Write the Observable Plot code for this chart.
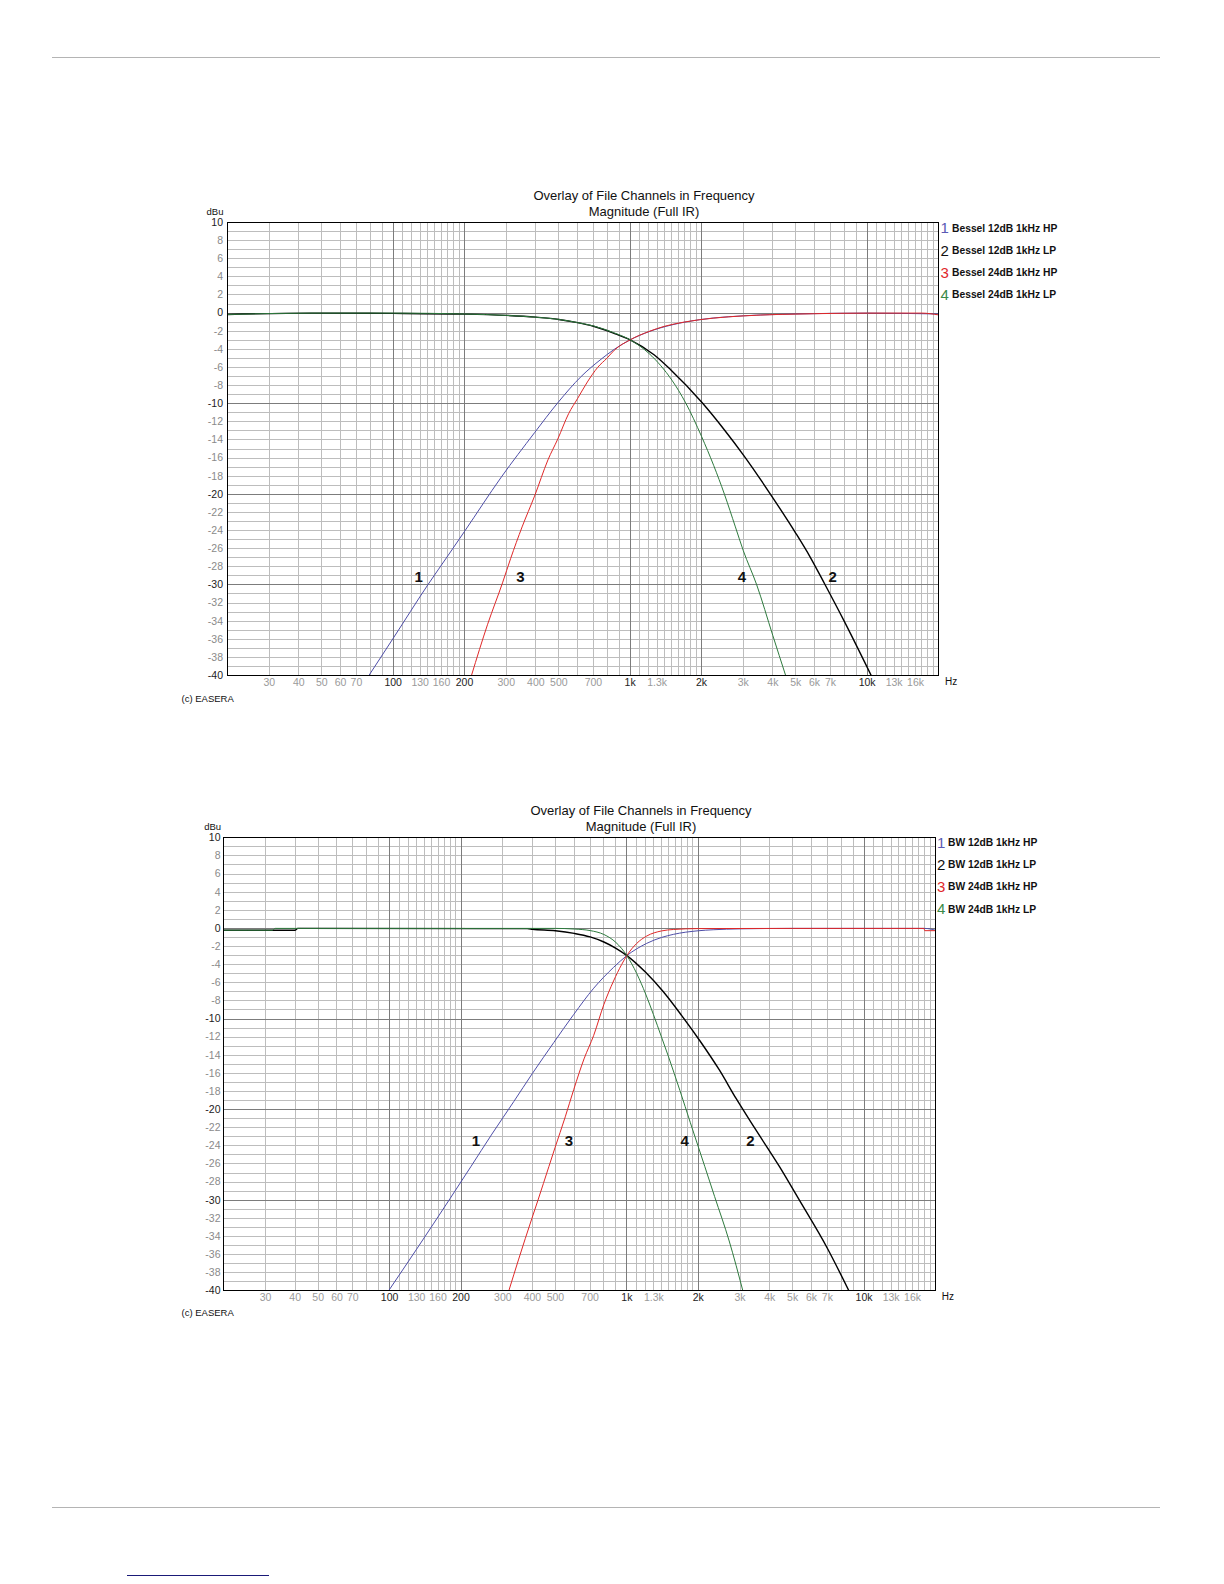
<!DOCTYPE html>
<html><head><meta charset="utf-8">
<script src="https://cdn.jsdelivr.net/npm/d3@7"></script>
<script src="https://cdn.jsdelivr.net/npm/@observablehq/plot@0.6"></script>
<style>
html,body{margin:0;padding:0;background:#fff}
#page{position:relative;width:1224px;height:1584px;overflow:hidden;background:#fff}
.t{position:absolute;white-space:nowrap;font-family:"Liberation Sans",Arial,sans-serif;color:#111}
.chart{position:absolute;left:0}
</style></head><body><div id="page"></div>
<script>
// ---------- axis / grid values ----------
const xLabelsGray = [30,40,50,60,70,130,160,300,400,500,700,1300,3000,4000,5000,6000,7000,13000,16000];
const xLabelsDark = [100,200,1000,2000,10000];
const xGridMajor = [100,200,1000,2000,10000];
const xGridMinor = [30,40,50,60,70,80,90,110,120,130,140,150,160,170,180,190,300,400,500,600,700,800,900,
  1100,1200,1300,1400,1500,1600,1700,1800,1900,3000,4000,5000,6000,7000,8000,9000,
  11000,12000,13000,14000,15000,16000,17000,18000,19000];
const yLabelsGray = [8,6,4,2,-2,-4,-6,-8,-12,-14,-16,-18,-22,-24,-26,-28,-32,-34,-36,-38];
const yLabelsDark = [10,0,-10,-20,-30,-40];
const yGridMajor = [0,-10,-20,-30];
const yGridMinor = [9,8,7,6,5,4,3,2,1,-1,-2,-3,-4,-5,-6,-7,-8,-9,-11,-12,-13,-14,-15,-16,-17,-18,-19,
  -21,-22,-23,-24,-25,-26,-27,-28,-29,-31,-32,-33,-34,-35,-36,-37,-38,-39];

// ---------- chart 1: Bessel ----------
const bes12hp_f  = [79,100,140,171,200,286,395,495,621,753,857,1000,1200,1500,2000,3000,5000,10000,20000];
const bes12hp_db = [-40,-35.9,-30,-26.7,-24.1,-18.1,-13.2,-9.9,-7.0,-5.1,-4.0,-2.95,-2.05,-1.3,-0.7,-0.3,-0.1,0,-0.1];
const bes12lp_f  = [20,45,100,200,300,400,500,600,700,850,1000,1261,1482,2014,2500,3012,4026,5000,5741,6620,8000,10400];
const bes12lp_db = [-0.15,0,-0.03,-0.11,-0.25,-0.45,-0.7,-1.05,-1.45,-2.2,-2.95,-4.6,-6.25,-9.9,-12.9,-15.7,-20.5,-24.3,-26.9,-29.9,-34.0,-40];
const bes24hp_f  = [214,250,290,313,350,395,450,495,550,601,660,729,800,857,1000,1200,1389,1700,2253,3000,5930,10000,17000,20000];
const bes24hp_db = [-40,-34.4,-29.7,-27.1,-23.6,-20.2,-16.2,-13.9,-11.1,-9.4,-7.6,-6.0,-4.95,-4.1,-2.95,-2.03,-1.47,-0.98,-0.55,-0.31,-0.07,0,0,-0.2];
const bes24lp_f  = [20,45,100,200,300,400,500,600,700,850,1000,1200,1346,1500,1714,2000,2250,2500,2780,3000,3420,4000,4530];
const bes24lp_db = [-0.15,0,0,-0.1,-0.25,-0.45,-0.7,-1.05,-1.42,-2.15,-2.95,-4.45,-5.8,-7.4,-9.9,-13.6,-16.8,-20.0,-23.6,-26.2,-30,-35.6,-40];
const besLegend = ["Bessel 12dB 1kHz HP","Bessel 12dB 1kHz LP","Bessel 24dB 1kHz HP","Bessel 24dB 1kHz LP"];
const besMark_t  = ["1","3","4","2"];
const besMark_f  = [128,344,2960,7150];
const besMark_db = [-29.2,-29.2,-29.1,-29.1];

// ---------- chart 2: Butterworth ----------
const bw12hp_f  = [99,130,180,220,270,334,400,492,597,725,879,1000,1213,1400,1570,2000,2310,3000,5000,10000,18000,20000];
const bw12hp_db = [-40,-35.4,-29.8,-26.3,-22.7,-19.1,-16.0,-12.6,-9.5,-6.6,-4.3,-3.0,-1.65,-1.0,-0.66,-0.26,-0.15,-0.05,0,0,0,-0.2];
const bw12lp_f  = [20,40,41,380,400,500,600,700,800,900,1000,1200,1425,1700,2031,2450,2891,3450,4400,5337,7000,8630];
const bw12lp_db = [-0.2,-0.2,0,-0.03,-0.1,-0.26,-0.55,-0.94,-1.5,-2.2,-3.0,-4.85,-7.0,-9.6,-12.4,-15.6,-18.8,-22.0,-26.3,-30.0,-35.3,-40];
const bw24hp_f  = [318,350,398,422,469,498,550,597,660,725,800,879,950,1000,1100,1213,1400,1570,2000,5000,10000,17900,18000,20000];
const bw24hp_db = [-40,-36.5,-32.0,-30.0,-26.3,-24.2,-20.8,-17.8,-14.4,-11.8,-8.4,-5.8,-4.0,-3.0,-1.66,-0.84,-0.28,-0.12,-0.02,0,0,0,-0.25,-0.25];
const bw24lp_f  = [20,32,33,500,600,700,800,900,1000,1100,1200,1294,1400,1500,1674,1850,2000,2132,2344,2700,3083];
const bw24lp_db = [-0.2,-0.2,0,0,-0.07,-0.24,-0.67,-1.56,-3.0,-4.97,-7.24,-9.5,-12.0,-14.2,-17.9,-21.4,-24.1,-26.3,-29.6,-34.5,-40];
const bwLegend = ["BW 12dB 1kHz HP","BW 12dB 1kHz LP","BW 24dB 1kHz HP","BW 24dB 1kHz LP"];
const bwMark_t  = ["1","3","4","2"];
const bwMark_f  = [231,570,1754,3319];
const bwMark_db = [-23.5,-23.5,-23.5,-23.5];

// ---------- styling ----------
const lineColors   = ["#4e4ea8","#000000","#e02828","#2e7a3e"];
const lineWidths   = [1,1.4,1,1];
const legendColors = ["#5a5ab4","#111111","#e0282c","#3a8a48"];
const drawOrder = [0,1,2,3];

const page = document.getElementById("page");
const fmtHz = f => f >= 1000 ? (f/1000) + "k" : String(f);
const rowsOf = (fs, ds) => fs.map((f,i) => ({f, db: ds[i]}));

function addText(txt, x, y, o = {}) {
  const d = document.createElement("div");
  d.className = "t";
  d.textContent = txt;
  const size = o.size || 12;
  d.style.fontSize = size + "px";
  d.style.lineHeight = Math.round(size*1.25) + "px";
  d.style.top = (y - size*0.625) + "px";
  d.style.left = x + "px";
  if (o.anchor === "middle") d.style.transform = "translateX(-50%)";
  if (o.anchor === "end") d.style.transform = "translateX(-100%)";
  if (o.weight) d.style.fontWeight = o.weight;
  if (o.color) d.style.color = o.color;
  if (o.family) d.style.fontFamily = o.family;
  page.appendChild(d);
}

function makeChart(cfg) {
  const series = cfg.series.map(([fs, ds]) => rowsOf(fs, ds));
  const labels = cfg.mark_t.map((t,i) => ({t, f: cfg.mark_f[i], db: cfg.mark_db[i]}));
  const marks = [
    Plot.ruleX(xGridMinor, {stroke:"#bdbdbd", strokeWidth:1, shapeRendering:"crispEdges"}),
    Plot.ruleY(yGridMinor, {stroke:"#bdbdbd", strokeWidth:1, shapeRendering:"crispEdges"}),
    Plot.ruleX(xGridMajor, {stroke:"#7c7c7c", strokeWidth:1, shapeRendering:"crispEdges"}),
    Plot.ruleY(yGridMajor, {stroke:"#7c7c7c", strokeWidth:1, shapeRendering:"crispEdges"}),
  ];
  for (const i of drawOrder) {
    marks.push(Plot.line(series[i], {x:"f", y:"db", stroke: lineColors[i], strokeWidth: lineWidths[i], curve:"monotone-x", clip:true}));
  }
  marks.push(
    Plot.frame({stroke:"#000", strokeWidth:1, shapeRendering:"crispEdges"}),
    Plot.text(xLabelsGray, {x: d => d, frameAnchor:"bottom", lineAnchor:"middle", dy:7, text: fmtHz, fill:"#9a9a9a", fontSize:10.5}),
    Plot.text(xLabelsDark, {x: d => d, frameAnchor:"bottom", lineAnchor:"middle", dy:7, text: fmtHz, fill:"#222", fontSize:10.5}),
    Plot.axisY(yLabelsGray, {tickSize:0, tickPadding:cfg.yPad, tickFormat: d => String(d), color:"#8a8a8a", label:null, fontSize:10.5}),
    Plot.axisY(yLabelsDark, {tickSize:0, tickPadding:cfg.yPad, tickFormat: d => String(d), color:"#222", label:null, fontSize:10.5}),
    Plot.text(labels, {x:"f", y:"db", text:"t", fontSize:15, fontWeight:"bold", fill:"#111"})
  );
  const svg = Plot.plot({
    width: 1224, height: cfg.height,
    marginTop: cfg.mt, marginBottom: cfg.mb, marginLeft: cfg.ml, marginRight: cfg.mr,
    x: {type:"log", domain:[20,20000], axis:null},
    y: {domain:[-40,10]},
    style: {fontFamily:"'Liberation Sans', Arial, sans-serif", fontSize:"10.5px", background:"transparent", overflow:"visible"},
    marks
  });
  const wrap = document.createElement("div");
  wrap.className = "chart";
  wrap.style.top = cfg.top + "px";
  wrap.appendChild(svg);
  page.appendChild(wrap);

  // titles, axis units, legend, caption
  addText("Overlay of File Channels in Frequency", cfg.titleX, cfg.titleY, {anchor:"middle", size:13});
  addText("Magnitude (Full IR)", cfg.titleX, cfg.titleY + 16.5, {anchor:"middle", size:13});
  addText("dBu", cfg.dbuX, cfg.dbuY, {anchor:"middle", size:9.5});
  addText("Hz", cfg.hzX, cfg.hzY, {size:10});
  addText("(c) EASERA", 181.5, cfg.capY, {size:9.5});
  cfg.legend.forEach((name, i) => {
    const y = cfg.legY + i*22.2;
    addText(String(i+1), cfg.legNumX, y, {size:15, color: legendColors[i]});
    addText(name, cfg.legTextX, y + 0.5, {size:10.3, weight:"bold", color:"#111"});
  });
}

makeChart({
  top:180, height:530, mt:42, mb:35, ml:227, mr:286, yPad:4.5,
  series: [[bes12hp_f,bes12hp_db],[bes12lp_f,bes12lp_db],[bes24hp_f,bes24hp_db],[bes24lp_f,bes24lp_db]],
  mark_t: besMark_t, mark_f: besMark_f, mark_db: besMark_db,
  legend: besLegend,
  titleX:644, titleY:195.7, dbuX:215, dbuY:212, hzX:945, hzY:681.5, capY:699,
  legY:227.7, legNumX:940.5, legTextX:952
});
makeChart({
  top:790, height:540, mt:47.3, mb:39.7, ml:223.3, mr:289, yPad:3.3,
  series: [[bw12hp_f,bw12hp_db],[bw12lp_f,bw12lp_db],[bw24hp_f,bw24hp_db],[bw24lp_f,bw24lp_db]],
  mark_t: bwMark_t, mark_f: bwMark_f, mark_db: bwMark_db,
  legend: bwLegend,
  titleX:641, titleY:810.7, dbuX:212.7, dbuY:826.7, hzX:941.7, hzY:1296.5, capY:1313,
  legY:842, legNumX:937, legTextX:948
});

// page rules and link underline
function addRule(x1, x2, y, color, h) {
  const d = document.createElement("div");
  d.style.cssText = `position:absolute;left:${x1}px;top:${y}px;width:${x2-x1}px;height:${h}px;background:${color}`;
  page.appendChild(d);
}
addRule(52, 1160, 57, "#b4b4b4", 1);
addRule(52, 1160, 1507, "#b4b4b4", 1);
addRule(127, 269, 1575, "#1a1a78", 1);
</script></body></html>
